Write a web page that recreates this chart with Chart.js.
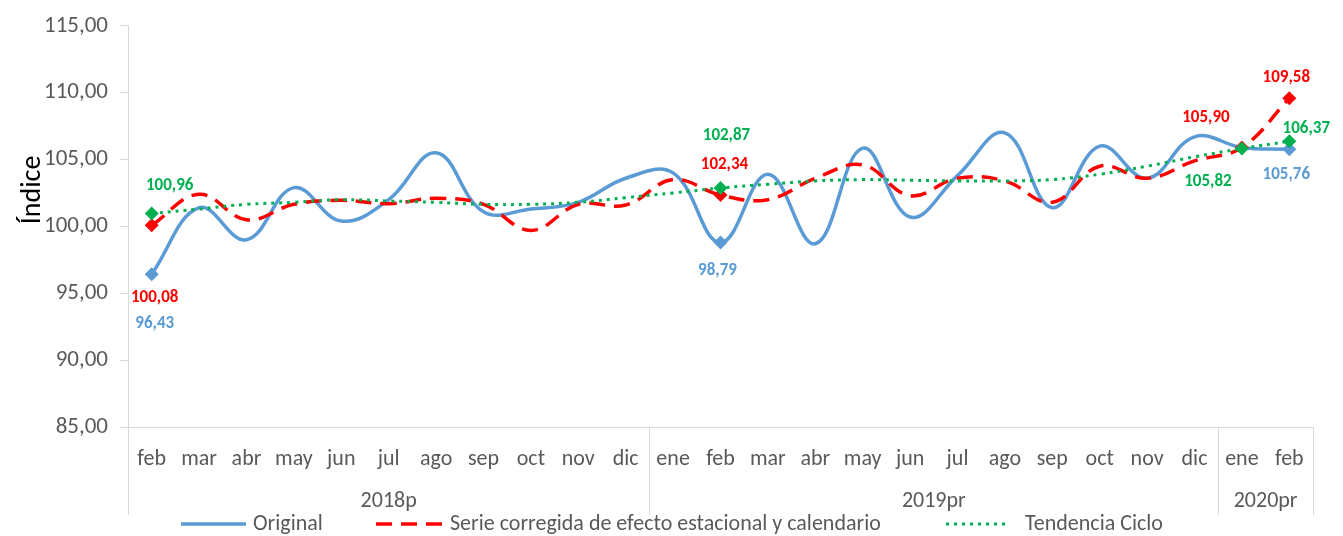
<!DOCTYPE html>
<html>
<head>
<meta charset="utf-8">
<script src="https://cdn.jsdelivr.net/npm/chart.js@4"></script>
<style>
    html, body { margin: 0; padding: 0; background: #fff; }
    #wrap { width: 1343px; height: 536px; position: relative; }
</style>
</head>
<body>
<div id="wrap"><canvas id="chart"></canvas></div>
<script>
(function() {
    'use strict';

    // Categories (months) and year groups under them
    const months = ['feb', 'mar', 'abr', 'may', 'jun', 'jul', 'ago', 'sep', 'oct', 'nov', 'dic',
        'ene', 'feb', 'mar', 'abr', 'may', 'jun', 'jul', 'ago', 'sep', 'oct', 'nov', 'dic',
        'ene', 'feb'];
    const yearLabels = ['2018p', '2019pr', '2020pr'];
    const yearCounts = [11, 12, 2];

    // Series values
    const original = [96.43, 101.4, 99.0, 102.9, 100.4, 102.0, 105.5, 101.1, 101.3, 101.8, 103.6,
        104.0, 98.79, 103.9, 98.7, 105.85, 100.7, 103.8, 107.0, 101.4, 106.0, 103.6, 106.7,
        105.9, 105.76];
    const corregida = [100.08, 102.4, 100.5, 101.65, 101.95, 101.7, 102.1, 101.65, 99.7, 101.65, 101.6,
        103.5, 102.34, 102.0, 103.6, 104.6, 102.3, 103.6, 103.4, 101.8, 104.5, 103.6, 104.9,
        105.90, 109.58];
    const tendencia = [100.96, 101.3, 101.65, 101.8, 102.0, 101.9, 101.8, 101.65, 101.65, 101.8, 102.15,
        102.5, 102.87, 103.15, 103.4, 103.5, 103.45, 103.4, 103.4, 103.5, 103.9, 104.5, 105.2,
        105.82, 106.37];

    // Y axis ticks
    const yMin = 85, yMax = 115, yStep = 5;

    // Points that get a marker, per series
    const markersOriginal = [0, 12, 24];
    const markersCorregida = [0, 12, 23, 24];
    const markersTendencia = [0, 12, 23, 24];

    const FONT = "'Liberation Sans Narrow', 'Arial Narrow', Carlito, 'Open Sans', sans-serif";
    const BLUE = '#5b9bd5', RED = '#ff0000', GREEN = '#00b050', GREY = '#595959', AXIS = '#d9d9d9';

    // Data labels: dataset index, point index, offset from the point
    const dataLabels = [
        { ds: 0, i: 0, dx: 3, dy: 50 },
        { ds: 1, i: 0, dx: 3, dy: 72 },
        { ds: 2, i: 0, dx: 18, dy: -28 },
        { ds: 0, i: 12, dx: -3, dy: 28 },
        { ds: 1, i: 12, dx: 4, dy: -30 },
        { ds: 2, i: 12, dx: 6, dy: -52 },
        { ds: 1, i: 23, dx: -36, dy: -30 },
        { ds: 2, i: 23, dx: -34, dy: 33 },
        { ds: 0, i: 24, dx: -3, dy: 25 },
        { ds: 1, i: 24, dx: -3, dy: -21 },
        { ds: 2, i: 24, dx: 17, dy: -12 }
    ];

    function fmt(v) {
        return v.toFixed(2).replace('.', ',');
    }

    function markerRadius(list, r) {
        return function(ctx) {
            return list.indexOf(ctx.dataIndex) >= 0 ? r : 0;
        };
    }

    const decor = {
        id: 'decor',
        afterDatasetsDraw(chart) {
            const ctx = chart.ctx;

            // data labels
            ctx.save();
            ctx.font = "bold 17px " + FONT;
            ctx.textAlign = 'center';
            ctx.textBaseline = 'middle';
            dataLabels.forEach(function(l) {
                const ds = chart.data.datasets[l.ds];
                const pt = chart.getDatasetMeta(l.ds).data[l.i];
                ctx.fillStyle = ds.borderColor;
                ctx.fillText(fmt(ds.data[l.i]), pt.x + l.dx, pt.y + l.dy);
            });
            ctx.restore();
        },
        afterDraw(chart) {
            const ctx = chart.ctx;
            const area = chart.chartArea;
            const xs = chart.scales.x;
            const lowEdge = area.bottom + 88;

            ctx.save();
            ctx.strokeStyle = AXIS;
            ctx.lineWidth = 1;

            // group separators and year labels
            const half = (xs.getPixelForValue(1) - xs.getPixelForValue(0)) / 2;
            let start = 0;
            const edges = [area.left];
            yearCounts.forEach(function(n) {
                start += n;
                edges.push(xs.getPixelForValue(start - 1) + half);
            });
            edges.forEach(function(ex) {
                const px = Math.round(ex) + 0.5;
                ctx.beginPath();
                ctx.moveTo(px, area.bottom);
                ctx.lineTo(px, lowEdge);
                ctx.stroke();
            });
            ctx.fillStyle = GREY;
            ctx.font = "22px " + FONT;
            ctx.textAlign = 'center';
            ctx.textBaseline = 'middle';
            yearLabels.forEach(function(lab, k) {
                ctx.fillText(lab, (edges[k] + edges[k + 1]) / 2, area.bottom + 74);
            });

            // axis title
            ctx.save();
            ctx.translate(33, 190);
            ctx.rotate(-Math.PI / 2);
            ctx.fillStyle = '#000';
            ctx.font = "28px " + FONT;
            ctx.fillText('Índice', 0, 0);
            ctx.restore();

            // legend
            const ly = 524;
            ctx.font = "22px " + FONT;
            ctx.textAlign = 'left';
            ctx.fillStyle = GREY;
            ctx.lineWidth = 3.5;

            ctx.strokeStyle = BLUE;
            ctx.setLineDash([]);
            ctx.beginPath(); ctx.moveTo(181, ly); ctx.lineTo(246, ly); ctx.stroke();
            ctx.fillText('Original', 253, ly);

            ctx.strokeStyle = RED;
            ctx.setLineDash([16, 9]);
            ctx.beginPath(); ctx.moveTo(376, ly); ctx.lineTo(442, ly); ctx.stroke();
            ctx.fillText('Serie corregida de efecto estacional y calendario', 450, ly);

            ctx.strokeStyle = GREEN;
            ctx.lineWidth = 3;
            ctx.setLineDash([3, 5]);
            ctx.beginPath(); ctx.moveTo(946, ly); ctx.lineTo(1010, ly); ctx.stroke();
            ctx.fillText('Tendencia Ciclo', 1025, ly);

            ctx.restore();
        }
    };

    const canvas = document.getElementById('chart');
    new Chart(canvas.getContext('2d'), {
        type: 'line',
        data: {
            labels: months,
            datasets: [{
                label: 'Original',
                data: original,
                borderColor: BLUE,
                backgroundColor: BLUE,
                borderWidth: 3.5,
                tension: 0.4,
                pointStyle: 'rectRot',
                pointRadius: markerRadius(markersOriginal, 7),
                pointBorderWidth: 0,
                order: 3
            }, {
                label: 'Serie corregida de efecto estacional y calendario',
                data: corregida,
                borderColor: RED,
                backgroundColor: RED,
                borderWidth: 3.5,
                borderDash: [16, 9],
                tension: 0.4,
                pointStyle: 'rectRot',
                pointRadius: markerRadius(markersCorregida, 7),
                pointBorderWidth: 0,
                order: 2
            }, {
                label: 'Tendencia Ciclo',
                data: tendencia,
                borderColor: GREEN,
                backgroundColor: GREEN,
                borderWidth: 3,
                borderDash: [3, 5],
                tension: 0.4,
                pointStyle: 'rectRot',
                pointRadius: markerRadius(markersTendencia, 7),
                pointBorderWidth: 0,
                order: 1
            }]
        },
        options: {
            responsive: true,
            maintainAspectRatio: false,
            animation: false,
            layout: { padding: { top: 22, right: 30, left: 0, bottom: 0 } },
            scales: {
                x: {
                    offset: true,
                    grid: { display: false, offset: true },
                    border: { display: true, color: AXIS, width: 1 },
                    ticks: {
                        color: GREY,
                        font: { family: FONT, size: 22 },
                        autoSkip: false,
                        maxRotation: 0,
                        padding: 11
                    },
                    afterFit: function(scale) { scale.height = 109; }
                },
                y: {
                    min: yMin,
                    max: yMax,
                    grid: { drawOnChartArea: false, drawTicks: true, tickLength: 8, color: AXIS },
                    border: { display: true, color: AXIS, width: 1 },
                    ticks: {
                        stepSize: yStep,
                        color: GREY,
                        padding: 12,
                        font: { family: FONT, size: 23 },
                        callback: function(v) { return fmt(v); }
                    },
                    afterFit: function(scale) { scale.width = 128; }
                }
            },
            plugins: {
                legend: { display: false },
                tooltip: { enabled: false }
            }
        },
        plugins: [decor]
    });
})();
</script>
</body>
</html>
